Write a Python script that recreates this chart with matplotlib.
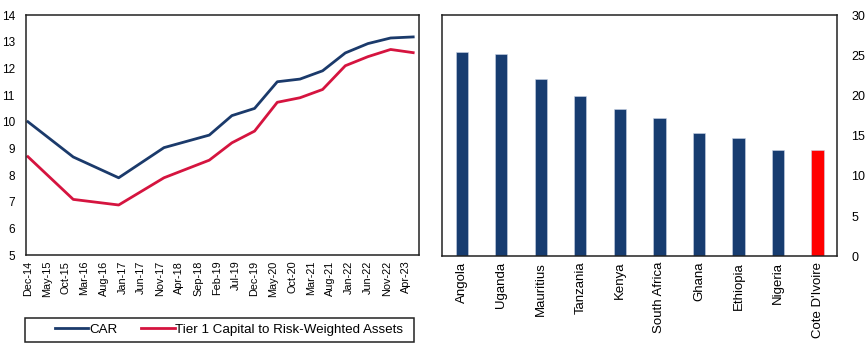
import numpy as np
import pandas as pd
import matplotlib
matplotlib.use('Agg')
import matplotlib.pyplot as plt
import matplotlib.dates as mdates
from matplotlib.patches import Rectangle

plt.rcParams['font.family'] = ['Liberation Sans', 'DejaVu Sans']

# ---- data --------------------------------------------------------------------
dates = ['2014-12', '2015-12', '2016-12', '2017-12', '2018-12', '2019-06',
         '2019-12', '2020-06', '2020-12', '2021-06', '2021-12', '2022-06',
         '2022-12', '2023-06']
car = [10.0, 8.68, 7.9, 9.03, 9.5, 10.23, 10.5, 11.5, 11.6, 11.91, 12.58,
       12.93, 13.14, 13.18]
tier1 = [8.69, 7.09, 6.88, 7.9, 8.56, 9.21, 9.65, 10.73, 10.9, 11.21, 12.1,
         12.44, 12.71, 12.59]

countries = ['Angola', 'Uganda', 'Mauritius', 'Tanzania', 'Kenya',
             'South Africa', 'Ghana', 'Ethiopia', 'Nigeria', "Cote D'Ivoire"]
ratio = [25.4, 25.1, 22.1, 19.9, 18.3, 17.2, 15.35, 14.65, 13.15, 13.15]

NAVY = '#1b3a6b'
CRIMSON = '#d5143f'
BAR = '#173c70'

fig = plt.figure(figsize=(8.65, 3.5), dpi=100)

# ---- left: CAR vs Tier 1 -----------------------------------------------------
ax = fig.add_axes([0.030, 0.271, 0.454, 0.686])
d = pd.to_datetime(dates)
l1, = ax.plot(d, car, color=NAVY, lw=2.0, label='CAR')
l2, = ax.plot(d, tier1, color=CRIMSON, lw=2.0,
              label='Tier 1 Capital to Risk-Weighted Assets')
ticks = pd.date_range('2014-12-01', periods=21, freq='5MS')
ax.set_xticks(ticks)
ax.xaxis.set_major_formatter(mdates.DateFormatter('%b-%y'))
ax.tick_params(axis='x', rotation=90, length=0, labelsize=7.8, pad=4)
ax.tick_params(axis='y', length=0, labelsize=8.5, pad=8)
ax.set_ylim(5, 14)
ax.set_yticks(range(5, 15))
ax.set_xlim(pd.Timestamp('2014-11-15'), pd.Timestamp('2023-07-15'))
for s in ax.spines.values():
    s.set_color('#222222'); s.set_linewidth(1.1)

# legend: entries inside a box spanning the left panel
fig.legend(handles=[l1, l2], loc='center', ncol=2,
           bbox_to_anchor=(0.265, 0.059), frameon=False, fontsize=9.6,
           handlelength=2.5, handletextpad=0.05, columnspacing=1.8)
fig.add_artist(Rectangle((0.029, 0.023), 0.450, 0.069, transform=fig.transFigure,
                         fill=False, edgecolor='#222222', lw=1.1))

# ---- right: bars -------------------------------------------------------------
bx = fig.add_axes([0.511, 0.268, 0.457, 0.689])
cols = [BAR] * (len(countries) - 1) + ['#ff0000']
x = np.arange(len(countries))
bx.bar(x, ratio, width=0.31, color=cols, edgecolor='#c9d4e6', linewidth=0.4)
bx.set_xticks(x)
bx.set_xticklabels(countries, rotation=90)
bx.set_xlim(-0.5, 9.5)
bx.set_ylim(0, 30)
bx.set_yticks(range(0, 31, 5))
bx.yaxis.tick_right()
bx.tick_params(axis='x', length=0, labelsize=9.5, pad=4)
bx.tick_params(axis='y', length=0, labelsize=9, pad=10)
for s in bx.spines.values():
    s.set_color('#222222'); s.set_linewidth(1.1)

fig.savefig('out.png', dpi=100)
